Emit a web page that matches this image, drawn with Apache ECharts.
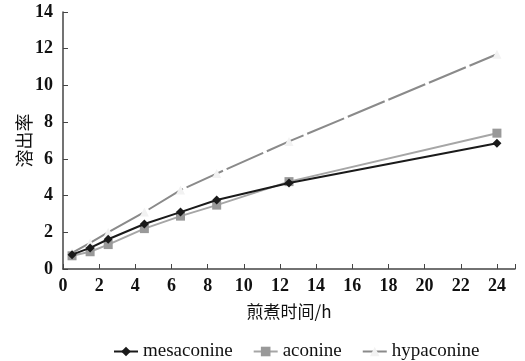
<!DOCTYPE html>
<html>
<head>
<meta charset="utf-8">
<script src="https://cdn.jsdelivr.net/npm/echarts@6/dist/echarts.min.js"></script>
<style>
html,body{margin:0;padding:0;background:#fff;}
#chart{width:525px;height:361px;}
</style>
</head>
<body>
<div id="chart"></div>
<script>
//煎煮时间（h）
var hours=[0.5,1.5,2.5,4.5,6.5,8.5,12.5,24];
//各成分溶出率
var mesaconine=[0.78,1.15,1.62,2.45,3.1,3.76,4.68,6.85];
var aconine=[0.72,0.94,1.33,2.2,2.88,3.48,4.76,7.4];
var hypaconine=[0.88,1.42,2.0,3.1,4.3,5.2,6.95,11.7];
var seriesNames=['mesaconine','aconine','hypaconine'];

function pairs(ys){
	var arr=[];
	for(var i=0;i<hours.length;i++){
		arr.push([hours[i],ys[i]]);
	}
	return arr;
}

var serif='"Liberation Serif","DejaVu Serif",serif';
var cjk='"Noto Sans CJK SC",sans-serif';

var myChart=echarts.init(document.getElementById('chart'));
var option={
	animation:false,
	backgroundColor:'#fff',
	grid:{left:63,right:10,top:12,bottom:92,containLabel:false},
	legend:{
		data:seriesNames,
		left:108,
		top:337,
		itemWidth:24,
		itemHeight:12,
		itemGap:20,
		textStyle:{fontFamily:serif,fontSize:19,color:'#111'}
	},
	xAxis:{
		type:'value',
		min:0,
		max:25,
		interval:2,
		name:'煎煮时间/h',
		nameLocation:'middle',
		nameGap:34,
		nameMoveOverlap:false,
		nameTextStyle:{fontFamily:cjk,fontSize:17,color:'#111'},
		axisLine:{lineStyle:{color:'#444',width:1.5}},
		axisTick:{inside:true,length:5,lineStyle:{color:'#444'}},
		axisLabel:{
			fontFamily:serif,fontSize:18,fontWeight:'bold',color:'#111',margin:8,
			formatter:function(v){return v>24?'':v;}
		},
		splitLine:{show:false}
	},
	yAxis:{
		type:'value',
		min:0,
		max:14,
		interval:2,
		name:'溶出率',
		nameLocation:'middle',
		nameRotate:90,
		nameGap:30,
		nameMoveOverlap:false,
		nameTextStyle:{fontFamily:cjk,fontSize:18,color:'#111'},
		axisLine:{show:true,lineStyle:{color:'#444',width:1.5}},
		axisTick:{show:true,inside:true,length:5,lineStyle:{color:'#444'}},
		axisLabel:{fontFamily:serif,fontSize:18,fontWeight:'bold',color:'#111',margin:10},
		splitLine:{show:false}
	},
	series:[
		{
			name:'mesaconine',
			type:'line',
			data:pairs(mesaconine),
			symbol:'diamond',
			symbolSize:9,
			itemStyle:{color:'#1a1a1a'},
			lineStyle:{color:'#1a1a1a',width:2},
			z:4
		},
		{
			name:'aconine',
			type:'line',
			data:pairs(aconine),
			symbol:'rect',
			symbolSize:9,
			itemStyle:{color:'#999'},
			lineStyle:{color:'#a6a6a6',width:2},
			z:3
		},
		{
			name:'hypaconine',
			type:'line',
			data:pairs(hypaconine),
			symbol:'triangle',
			symbolSize:9,
			itemStyle:{color:'#f2f2f2'},
			lineStyle:{color:'#8a8a8a',width:2,type:[40,4]},
			z:2
		}
	]
};
myChart.setOption(option);
</script>
</body>
</html>
